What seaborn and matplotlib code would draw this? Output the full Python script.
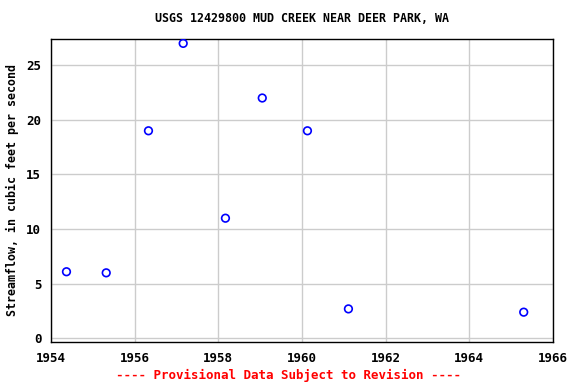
import matplotlib
matplotlib.use("Agg")
import matplotlib.pyplot as plt
import seaborn as sns
import pandas as pd

years = [1954.37, 1955.32, 1956.33, 1957.16, 1958.17, 1959.05, 1960.13, 1961.11, 1965.30]
flow = [6.1, 6.0, 19.0, 27.0, 11.0, 22.0, 19.0, 2.7, 2.4]
xticks = [1954, 1956, 1958, 1960, 1962, 1964, 1966]
yticks = [0, 5, 10, 15, 20, 25]

sns.set_style("white")
plt.rcParams['font.family'] = ['DejaVu Sans Mono']
plt.rcParams['font.weight'] = 'bold'
plt.rcParams['text.color'] = 'black'
plt.rcParams['xtick.color'] = 'black'
plt.rcParams['ytick.color'] = 'black'
plt.rcParams['axes.labelcolor'] = 'black'

df = pd.DataFrame({"year": years, "flow": flow})
fig = plt.figure(figsize=(5.76, 3.84), dpi=100)
ax = fig.add_axes([51/576, 1 - 342/384, (553-51)/576, (342-39)/384])
sns.scatterplot(data=df, x="year", y="flow", ax=ax, marker="o", s=30,
                facecolor="none", edgecolor="blue", linewidth=1.2, zorder=3)
ax.set_xlim(1954, 1966)
ax.set_ylim(-0.33, 27.4)
ax.set_xticks(xticks)
ax.set_yticks(yticks)
ax.set_xticklabels([str(t) for t in xticks], fontsize=9, fontweight='bold')
ax.set_yticklabels([str(t) for t in yticks], fontsize=9, fontweight='bold')
ax.grid(True, color="#cccccc", linewidth=1)
ax.set_axisbelow(True)
for s in ax.spines.values():
    s.set_color("black")
    s.set_linewidth(1)
ax.tick_params(axis='both', length=3, color='#cccccc', labelcolor='black', pad=4)
ax.set_xlabel("")
ax.set_ylabel("Streamflow, in cubic feet per second", fontsize=8.4, fontweight='bold', labelpad=5, color='black')
ax.set_title("USGS 12429800 MUD CREEK NEAR DEER PARK, WA", fontsize=8.4, fontweight='bold', pad=12, color='black')
fig.text(0.5, 1 - 375/384, "---- Provisional Data Subject to Revision ----", color="red",
         ha="center", va="center", fontsize=9, fontweight='bold')
fig.savefig("out.png", dpi=100)
